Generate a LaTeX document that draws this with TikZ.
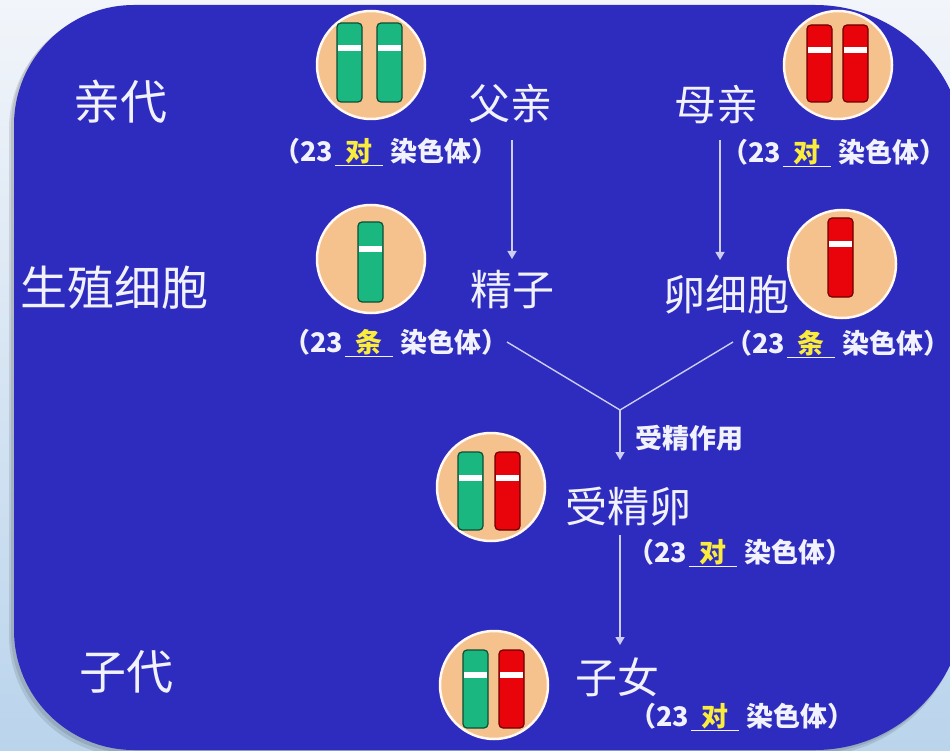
\documentclass[tikz,border=0pt]{standalone}
\usepackage{fontspec}
\newfontfamily\cjk{Noto Sans CJK SC}
\usetikzlibrary{arrows.meta}

\definecolor{pagetop}{RGB}{242,245,250}
\definecolor{pagebottom}{RGB}{186,212,236}
\definecolor{panelblue}{RGB}{46,44,190}
\definecolor{peach}{RGB}{245,193,140}
\definecolor{chromgreen}{RGB}{26,184,128}
\definecolor{chromgreenedge}{RGB}{12,78,52}
\definecolor{chromred}{RGB}{232,4,10}
\definecolor{chromrededge}{RGB}{110,0,0}
\definecolor{linklav}{RGB}{205,205,242}
\definecolor{labelwhite}{RGB}{242,242,255}
\definecolor{countyellow}{RGB}{250,236,60}

\tikzset{
  cell/.style={circle, minimum size=108pt, inner sep=0pt, fill=peach,
    draw=white!88!peach, line width=2.5pt},
  rowlabel/.style={text=labelwhite, inner sep=0pt, font=\cjk\fontsize{47}{50}\selectfont},
  namelabel/.style={text=labelwhite, inner sep=0pt, font=\cjk\fontsize{42}{46}\selectfont},
  countlabel/.style={text=labelwhite, inner sep=0pt, font=\cjk\bfseries\fontsize{27}{30}\selectfont},
  steplabel/.style={text=labelwhite, inner sep=0pt, font=\cjk\bfseries\fontsize{27}{30}\selectfont},
  link/.style={draw=linklav, line width=1.4pt},
  linkarrow/.style={link, -{Triangle[length=8pt,width=9pt]}},
  greenchrom/.style={fill=chromgreen, draw=chromgreenedge, line width=1.2pt, rounded corners=4pt},
  redchrom/.style={fill=chromred, draw=chromrededge, line width=1.2pt, rounded corners=4pt},
}

% one chromosome: style, left x, top y, bottom y, top of the white band
\newcommand{\chromosome}[5]{%
  \path[#1] (#2,#3) rectangle (#2+25,#4);
  \fill[white] (#2+1.2,#5) rectangle (#2+23.8,#5+6);
}
% "(23 _x_ 染色体)" with the count word underlined in yellow
\newcommand{\countof}[1]{（23\hspace{2pt}\underline{\makebox[48pt]{\textcolor{countyellow}{#1}}}\hspace{8pt}染色体）}

\begin{document}
\begin{tikzpicture}[x=1pt,y=-1pt]
  \useasboundingbox (0,0) rectangle (950,751);
  \clip (0,0) rectangle (950,751);

  % page and blue panel (tighter corners on the left, wider on the right)
  \shade[top color=pagetop, bottom color=pagebottom] (0,0) rectangle (950,751);
  \fill[black, opacity=0.10] (400,756) [rounded corners=120pt] -- (9,756) -- (9,9) -- (400,9)
    [rounded corners=150pt] -- (962,9) -- (962,756) -- cycle;
  \fill[black, opacity=0.10] (400,753) [rounded corners=120pt] -- (11,753) -- (11,7) -- (400,7)
    [rounded corners=150pt] -- (963,7) -- (963,753) -- cycle;
  \fill[panelblue] (400,750) [rounded corners=120pt] -- (14,750) -- (14,5) -- (400,5)
    [rounded corners=150pt] -- (965,5) -- (965,750) -- cycle;

  % generation labels
  \node[rowlabel] (parents) at (120,102) {亲代};
  \node[rowlabel] (gametes) at (114,288) {生殖细胞};
  \node[rowlabel] (offspring) at (126,672) {子代};

  % father
  \node[cell] (fathercell) at (371,65) {};
  \chromosome{greenchrom}{337}{23}{102}{45}
  \chromosome{greenchrom}{377}{23}{102}{45}
  \node[namelabel] (father) at (510,104) {父亲};
  \node[countlabel] (fathercount) at (386,152) {\countof{对}};

  % mother
  \node[cell] (mothercell) at (838,65) {};
  \chromosome{redchrom}{807}{25}{102}{47}
  \chromosome{redchrom}{843}{25}{102}{47}
  \node[namelabel] (mother) at (716,105) {母亲};
  \node[countlabel] (mothercount) at (834,153) {\countof{对}};

  % sperm
  \node[cell] (spermcell) at (371,259) {};
  \chromosome{greenchrom}{358}{222}{302}{246}
  \node[namelabel] (sperm) at (512,290) {精子};
  \node[countlabel] (spermcount) at (396,343) {\countof{条}};

  % egg
  \node[cell] (eggcell) at (842,264) {};
  \chromosome{redchrom}{828}{218}{297}{241}
  \node[namelabel] (egg) at (726,295) {卵细胞};
  \node[countlabel] (eggcount) at (838,344) {\countof{条}};

  % zygote
  \node[cell] (zygotecell) at (491,487) {};
  \chromosome{greenchrom}{458}{452}{530}{475}
  \chromosome{redchrom}{495}{452}{530}{475}
  \node[namelabel] (zygote) at (628,507) {受精卵};
  \node[countlabel] (zygotecount) at (740,553) {\countof{对}};
  \node[steplabel] (fertilise) at (689,438) {受精作用};

  % child
  \node[cell] (childcell) at (494,685) {};
  \chromosome{greenchrom}{463}{650}{728}{672}
  \chromosome{redchrom}{499}{650}{728}{672}
  \node[namelabel] (child) at (617,677) {子女};
  \node[countlabel] (childcount) at (742,717) {\countof{对}};

  % connector end points
  \coordinate (fatherout) at (512,140);
  \coordinate (spermin) at (512,259);
  \coordinate (motherout) at (720,140);
  \coordinate (eggin) at (720,260);
  \coordinate (spermout) at (507,342);
  \coordinate (eggout) at (733,342);
  \coordinate (meet) at (620,410);
  \coordinate (zygotein) at (620,460);
  \coordinate (zygoteout) at (620,535);
  \coordinate (childin) at (620,645);

  % connectors
  \draw[linkarrow] (fatherout) -- (spermin);
  \draw[linkarrow] (motherout) -- (eggin);
  \draw[link] (spermout) -- (meet) -- (eggout);
  \draw[linkarrow] (meet) -- (zygotein);
  \draw[linkarrow] (zygoteout) -- (childin);
\end{tikzpicture}
\end{document}
